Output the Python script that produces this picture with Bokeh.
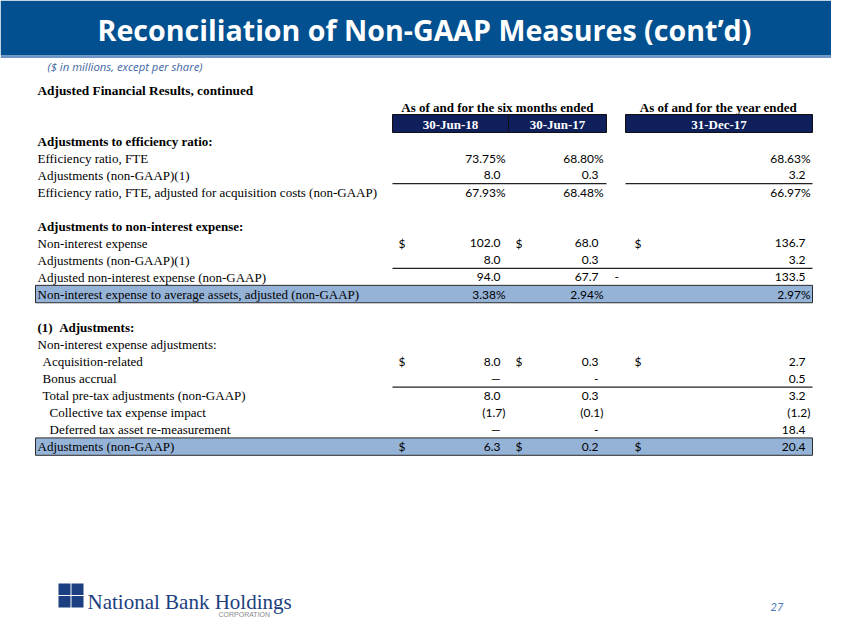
from bokeh.plotting import figure
from bokeh.models import Range1d, ColumnDataSource
from bokeh.core.properties import value
from bokeh.embed import file_html
from bokeh.resources import INLINE

# ---------------- data ----------------
title = "Reconciliation of Non-GAAP Measures (cont\u2019d)"
subtitle = "($ in millions, except per share)"
section_title = "Adjusted Financial Results, continued"
group_headers = ["As of and for the six months ended", "As of and for the year ended"]
period_labels = ["30-Jun-18", "30-Jun-17", "31-Dec-17"]

row_labels = [
    "Adjustments to efficiency ratio:",
    "Efficiency ratio, FTE",
    "Adjustments (non-GAAP)(1)",
    "Efficiency ratio, FTE, adjusted for acquisition costs (non-GAAP)",
    "",
    "Adjustments to non-interest expense:",
    "Non-interest expense",
    "Adjustments (non-GAAP)(1)",
    "Adjusted non-interest expense (non-GAAP)",
    "Non-interest expense to average assets, adjusted (non-GAAP)",
    "",
    "(1)\u00a0\u00a0Adjustments:",
    "Non-interest expense adjustments:",
    "Acquisition-related",
    "Bonus accrual",
    "Total pre-tax adjustments (non-GAAP)",
    "Collective tax expense impact",
    "Deferred tax asset re-measurement",
    "Adjustments (non-GAAP)",
]
row_indent = [0, 0, 0, 0, 0, 0, 0, 0, 0, 0, 0, 0, 0, 1, 1, 1, 2, 2, 0]
row_bold = [True, False, False, False, False, True, False, False, False, False,
            False, True, False, False, False, False, False, False, False]
row_dollar = [False, False, False, False, False, False, True, False, False, False,
              False, False, False, True, False, False, False, False, True]
row_highlight = [False] * 9 + [True] + [False] * 8 + [True]
row_underline = [False, False, True, False, False, False, False, True, False, False,
                 False, False, False, False, True, False, False, False, False]

jun18 = ["", "73.75%", "8.0", "67.93%", "", "", "102.0", "8.0", "94.0", "3.38%",
         "", "", "", "8.0", "\u2014", "8.0", "(1.7)", "\u2014", "6.3"]
jun17 = ["", "68.80%", "0.3", "68.48%", "", "", "68.0", "0.3", "67.7", "2.94%",
         "", "", "", "0.3", "-", "0.3", "(0.1)", "-", "0.2"]
dec17 = ["", "68.63%", "3.2", "66.97%", "", "", "136.7", "3.2", "133.5", "2.97%",
         "", "", "", "2.7", "0.5", "3.2", "(1.2)", "18.4", "20.4"]
stray_dash = ["", "", "", "", "", "", "", "", "-", "", "", "", "", "", "", "", "", "", ""]

footer_name = "National Bank Holdings"
footer_sub = "CORPORATION"
page_number = "27"

# ---------------- layout constants ----------------
ROW0, STEP = 141.0, 16.95
LABEL_X = [37, 42, 49]
NUM_RIGHT = [500, 598, 805]
PAD = 5
DOLLAR_X = [398, 515, 634]
SERIF = value("Liberation Serif")
SANS = value("Lato")
NAVY = "#0f1f5c"
FOOT = -9  # footer lifted slightly so it fits inside the page

p = figure(width=831, height=619, x_range=Range1d(0, 831), y_range=Range1d(619, 0),
           output_backend="svg", toolbar_location=None, min_border=0,
           x_axis_type=None, y_axis_type=None)
p.grid.visible = False
p.outline_line_color = None
p.background_fill_color = "white"
p.border_fill_color = "white"

# header band
p.quad(left=[0], right=[847], top=[0], bottom=[55], fill_color="#02508f", line_color=None)
p.quad(left=[0], right=[847], top=[55], bottom=[57.5], fill_color="#6f95c6", line_color=None)
p.text(x=[424], y=[28.5], text=[title], text_font=value("Open Sans"), text_font_style="bold",
       text_font_size="28.6px", text_color="white", text_align="center", text_baseline="middle")
p.text(x=[47], y=[66], text=[subtitle], text_font=value("Open Sans"), text_font_style="italic",
       text_font_size="11.3px", text_color="#3d66a3", text_align="left", text_baseline="middle")

p.text(x=[37], y=[90], text=[section_title], text_font=SERIF, text_font_style="bold",
       text_font_size="13.3px", text_color="black", text_align="left", text_baseline="middle")

# group headers
p.text(x=[497, 718], y=[107, 107], text=group_headers, text_font=SERIF, text_font_style="bold",
       text_font_size="13px", text_color="black", text_align="center", text_baseline="middle")
box_l = [392, 508, 625]
box_r = [508, 606, 812]
p.quad(left=box_l, right=box_r, top=[114] * 3, bottom=[132] * 3,
       fill_color=NAVY, line_color="#111111", line_width=1)
p.text(x=[(a + b) / 2 for a, b in zip(box_l, box_r)], y=[123.5] * 3, text=period_labels,
       text_font=SERIF, text_font_style="bold", text_font_size="13px",
       text_color="white", text_align="center", text_baseline="middle")

ys = [ROW0 + i * STEP for i in range(len(row_labels))]

# highlight rows
hl = [i for i, h in enumerate(row_highlight) if h]
p.quad(left=[35] * len(hl), right=[812] * len(hl),
       top=[ys[i] - 8.7 for i in hl], bottom=[ys[i] + 8.7 for i in hl],
       fill_color="#95b3d7", line_color="#2b2b2b", line_width=1)

# underlines
for i, u in enumerate(row_underline):
    if u:
        yy = ys[i] + 8.3
        if i == 2:
            p.segment(x0=[392, 625], y0=[yy, yy], x1=[606, 812], y1=[yy, yy],
                      line_color="#222222", line_width=1.3)
        else:
            p.segment(x0=[392], y0=[yy], x1=[812], y1=[yy], line_color="#222222", line_width=1.3)

# row labels
for b in (False, True):
    idx = [i for i in range(len(row_labels)) if row_bold[i] == b and row_labels[i]]
    src = ColumnDataSource(dict(x=[LABEL_X[row_indent[i]] for i in idx],
                                y=[ys[i] for i in idx],
                                t=[row_labels[i] for i in idx]))
    p.text(x="x", y="y", text="t", source=src, text_font=SERIF,
           text_font_style="bold" if b else "normal", text_font_size="13px",
           text_color="black", text_align="left", text_baseline="middle")

# numbers
nx, ny, nt = [], [], []
for c, col in enumerate([jun18, jun17, dec17]):
    for i, s in enumerate(col):
        if not s:
            continue
        right = NUM_RIGHT[c] + (PAD if s[-1] in "%)" else 0)
        nx.append(right); ny.append(ys[i]); nt.append(s)
p.text(x="x", y="y", text="t", source=ColumnDataSource(dict(x=nx, y=ny, t=nt)),
       text_font=SANS, text_font_size="12px", text_color="black",
       text_align="right", text_baseline="middle")

# dollar signs and stray dash
dx, dy, dt = [], [], []
for i, d in enumerate(row_dollar):
    if d:
        for c in range(3):
            dx.append(DOLLAR_X[c]); dy.append(ys[i]); dt.append("$")
for i, s in enumerate(stray_dash):
    if s:
        dx.append(614); dy.append(ys[i]); dt.append(s)
p.text(x="x", y="y", text="t", source=ColumnDataSource(dict(x=dx, y=dy, t=dt)),
       text_font=SANS, text_font_size="12px", text_color="black",
       text_align="left", text_baseline="middle")

# footer logo
p.quad(left=[58, 71, 58, 71], right=[70, 83, 70, 83],
       top=[592 + FOOT, 592 + FOOT, 604.5 + FOOT, 604.5 + FOOT],
       bottom=[603.5 + FOOT, 603.5 + FOOT, 616 + FOOT, 616 + FOOT],
       fill_color="#1b3f80", line_color=None)
p.text(x=[87], y=[610 + FOOT], text=[footer_name], text_font=SERIF, text_font_size="21px",
       text_color="#1b3f80", text_align="left", text_baseline="alphabetic")
p.text(x=[218], y=[613.5], text=[footer_sub], text_font=value("Liberation Sans"),
       text_font_size="7px", text_color="#8a8a8a", text_align="left", text_baseline="middle")
p.text(x=[770], y=[606], text=[page_number], text_font=SANS, text_font_style="italic",
       text_font_size="11px", text_color="#4a78b8", text_align="left", text_baseline="middle")

open("out.html", "w").write(file_html(p, INLINE))
